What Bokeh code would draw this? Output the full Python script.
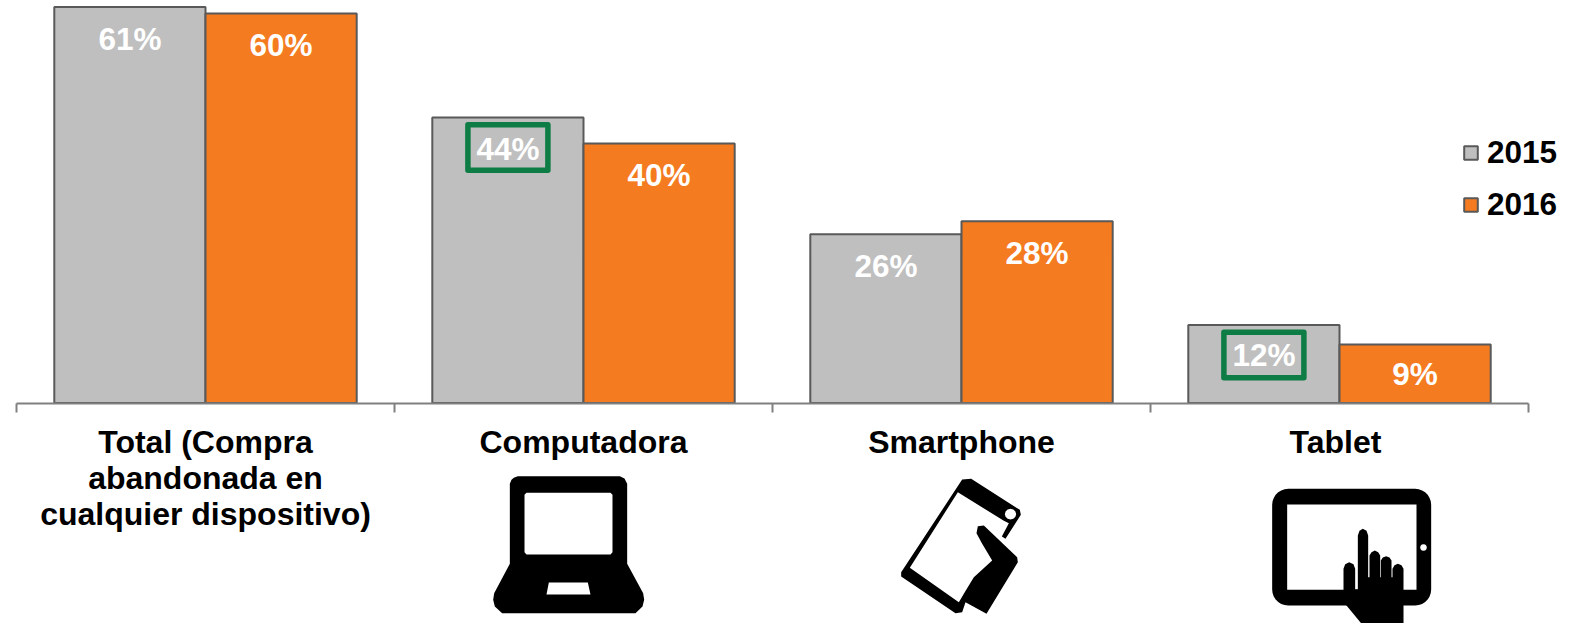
from bokeh.embed import file_html
from bokeh.resources import INLINE
from bokeh.plotting import figure
from bokeh.models import Range1d, FixedTicker, Legend, LegendItem, ColumnDataSource
from bokeh.core.properties import value
import numpy as np

# Share of abandoned purchases by device
categories = ["Total (Compra\nabandonada en\ncualquier dispositivo)", "Computadora", "Smartphone", "Tablet"]
values_2015 = [61, 44, 26, 12]
values_2016 = [60, 40, 28, 9]
highlighted_2015 = [44, 12]

WIDTH, HEIGHT = 1572, 623
AXIS_PX, LEFT_PX, CAT_PX, UNIT_PX = 402.5, 16, 378, 6.49
FONT = "Liberation Sans"
GRAY, ORANGE, EDGE, GREEN = "#BFBFBF", "#F47B20", "#595959", "#0E7D45"

p = figure(width=WIDTH, height=HEIGHT, output_backend="svg", toolbar_location=None,
           x_range=Range1d(-LEFT_PX / CAT_PX, (WIDTH - LEFT_PX) / CAT_PX),
           y_range=Range1d((AXIS_PX - HEIGHT) / UNIT_PX, AXIS_PX / UNIT_PX),
           y_axis_location=None, min_border=0, outline_line_color=None)
p.grid.visible = False
p.background_fill_color = "white"

# Pixel-based ranges for the device pictograms
p.extra_x_ranges["px"] = Range1d(0, WIDTH)
p.extra_y_ranges["px"] = Range1d(HEIGHT, 0)

# Axis sits at zero; minor ticks mark the category boundaries
centers = [i + 0.5 for i in range(len(categories))]
ax = p.xaxis[0]
ax.fixed_location = 0
ax.bounds = (0, len(categories))
ax.ticker = FixedTicker(ticks=[], minor_ticks=list(range(len(categories) + 1)))
ax.major_tick_line_color = None
ax.major_tick_in = ax.major_tick_out = 0
ax.minor_tick_in = 0
ax.minor_tick_out = 9
ax.minor_tick_line_color = "#808080"
ax.minor_tick_line_width = 2
ax.axis_line_color = "#808080"
ax.axis_line_width = 2

# Category names below the axis
p.text(x=centers, y=[0] * len(centers), text=categories, x_offset=[0, 0, 0, -4], y_offset=20.5,
       text_align="center", text_baseline="top",
       text_color="black", text_font=value(FONT), text_font_style="bold", text_font_size="32px",
       text_line_height=1.0)

# Paired bars
x15 = [i + 0.3 for i in range(len(categories))]
x16 = [i + 0.7 for i in range(len(categories))]
bars15 = p.vbar(x=x15, top=values_2015, width=0.4, bottom=0, fill_color=GRAY, line_color=EDGE, line_width=2)
bars16 = p.vbar(x=x16, top=values_2016, width=0.4, bottom=0, fill_color=ORANGE, line_color=EDGE, line_width=2)

# Green frames around the highlighted 2015 values
hx = [x for x, v in zip(x15, values_2015) if v in highlighted_2015]
hy = [v - 30 / UNIT_PX for v in highlighted_2015]
p.rect(x=hx, y=hy, width=80, height=45.5, width_units="screen", height_units="screen",
       fill_color=None, line_color=GREEN, line_width=5.5, line_join="round")

# Value labels inside the bars
for xs, vals in ((x15, values_2015), (x16, values_2016)):
    src = ColumnDataSource(dict(x=xs, y=vals, t=[f"{v}%" for v in vals],
                                off=[31.5 if v > 15 else 29.5 for v in vals]))
    p.text(x="x", y="y", text="t", source=src, y_offset="off", text_align="center", text_baseline="middle",
           text_color="white", text_font=value(FONT), text_font_style="bold", text_font_size="31.5px")

legend = Legend(items=[LegendItem(label="2015", renderers=[bars15]), LegendItem(label="2016", renderers=[bars16])],
                location=(1462, HEIGHT - 223), orientation="vertical", padding=0, margin=0, spacing=15,
                glyph_width=17, glyph_height=17, label_standoff=8,
                label_text_font=FONT, label_text_font_style="bold", label_text_font_size="31.5px",
                label_text_color="black", background_fill_alpha=0, border_line_color=None)
p.add_layout(legend, "center")


def rounded_rect(x0, y0, x1, y1, r, n=8):
    """Outline of a rounded rectangle as x and y lists."""
    xs, ys = [], []
    for cx, cy, a0 in ((x1 - r, y0 + r, -90), (x1 - r, y1 - r, 0), (x0 + r, y1 - r, 90), (x0 + r, y0 + r, 180)):
        t = np.radians(np.linspace(a0, a0 + 90, n))
        xs += list(cx + r * np.cos(t))
        ys += list(cy + r * np.sin(t))
    return xs, ys


def icon(parts, ox, oy, scale=1 / 3):
    """Draw black shapes; each part is (outer, [holes]) in local units."""
    polys_x, polys_y = [], []
    for outer, holes in parts:
        rings = [outer] + holes
        polys_x.append([[list(ox + np.array(r[0]) * scale) for r in rings]])
        polys_y.append([[list(oy + np.array(r[1]) * scale) for r in rings]])
    p.multi_polygons(xs=polys_x, ys=polys_y, fill_color="black", line_color=None,
                     x_range_name="px", y_range_name="px")


def ring(points):
    return [q[0] for q in points], [q[1] for q in points]


# Laptop
laptop_outer = ring([(100, 52), (112, 47), (418, 47), (432, 54), (440, 70), (440, 310), (488, 398), (491, 418),
                     (486, 438), (465, 458), (65, 458), (43, 438), (38, 418), (41, 398), (88, 310), (88, 70), (93, 58)])
laptop_screen = ring([(138, 97), (390, 97), (396, 103), (396, 275), (390, 282), (138, 282), (132, 275), (132, 103)])
laptop_pad = ring([(205, 366), (322, 366), (330, 402), (198, 402)])
icon([(laptop_outer, [laptop_screen, laptop_pad])], 480, 460)

# Smartphone held by a hand
phone_outer = ring([(245, 57), (272, 55), (418, 148), (421, 163), (375, 235), (364, 228), (385, 188), (370, 181),
                    (232, 95), (88, 322), (235, 425), (250, 400), (280, 350), (335, 300), (305, 250), (288, 218),
                    (292, 197), (310, 195), (410, 290), (412, 305), (318, 460), (255, 425), (245, 455), (225, 458),
                    (62, 348), (62, 335)])
t = np.radians(np.arange(0, 360, 30))
phone_lens = (list(390 + 17 * np.cos(t)), list(161 + 16 * np.sin(t)))
icon([(phone_outer, [phone_lens])], 880, 460)

# Tablet with a pointing hand
tablet_outer = rounded_rect(35, 55, 512, 405, 48)
tablet_screen = ring([(80, 102), (468, 102), (468, 358), (80, 358)])
tablet_button = (list(489 + 10 * np.cos(t)), list(231 + 10 * np.sin(t)))
hand = ring([(249, 400), (249, 295), (254, 281), (266, 275), (279, 281), (284, 295), (284, 356), (292, 356),
             (292, 195), (297, 181), (307, 175), (318, 181), (323, 195), (323, 320), (327, 320),
             (327, 255), (333, 245), (343, 240), (353, 245), (359, 255), (359, 320), (361, 320),
             (361, 270), (367, 261), (377, 257), (387, 261), (393, 270), (393, 320), (396, 320),
             (396, 295), (402, 284), (412, 280), (423, 284), (429, 295), (429, 462), (305, 462), (258, 405)])
icon([(tablet_outer, [tablet_screen, tablet_button]), (hand, [])], 1260, 470)

open("out.html", "w").write(file_html(p, INLINE))
